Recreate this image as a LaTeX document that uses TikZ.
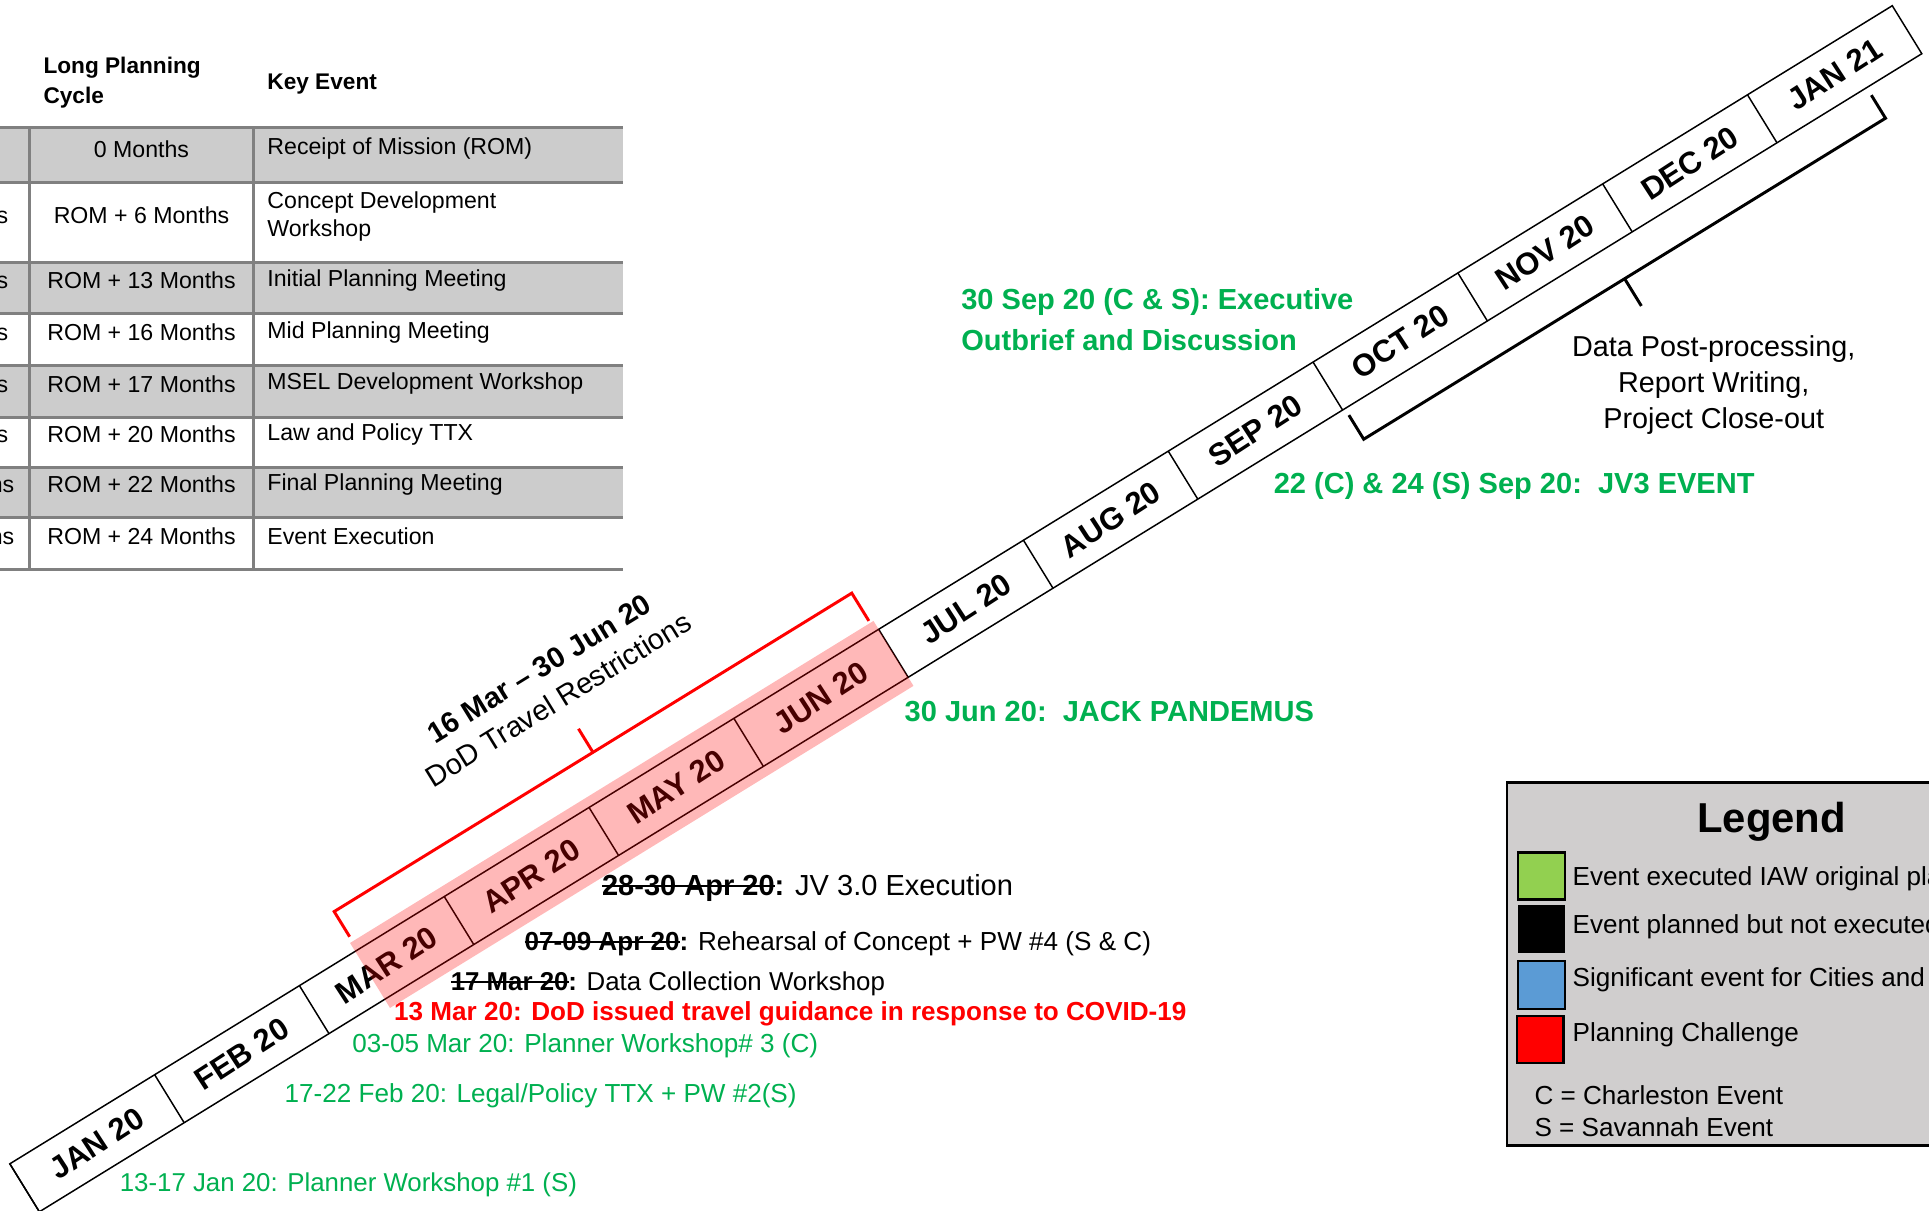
\documentclass[tikz,border=0pt]{standalone}
\usepackage{fontspec}
\setmainfont{Liberation Sans}
\newcommand{\strk}[1]{{\setbox0=\hbox{#1}\rlap{\rule[0.3em]{\wd0}{0.8pt}}\box0}}
\definecolor{evgreen}{RGB}{0,176,80}
\definecolor{lgreen}{RGB}{146,208,80}
\definecolor{lblue}{RGB}{91,155,213}
\definecolor{tabgray}{RGB}{204,204,204}
\definecolor{tabedge}{RGB}{128,128,128}
\definecolor{leggray}{RGB}{208,206,206}

\begin{document}
\begin{tikzpicture}[x=0.5pt, y=-0.5pt,
    every node/.style={inner sep=0pt},
    tabhead/.style={font=\fontsize{9.2}{12}\selectfont\bfseries, anchor=west, align=left},
    tabcell/.style={font=\fontsize{9.4}{11}\selectfont, anchor=west, align=left},
    tabmid/.style={font=\fontsize{9.4}{11}\selectfont},
    tabline/.style={draw=tabedge, line width=1.2pt},
    band/.style={line width=0.6pt},
    month/.style={font=\fontsize{12.6}{14}\selectfont\bfseries, rotate=33},
    redbrace/.style={red, line width=1.2pt},
    blackbrace/.style={line width=1.2pt},
    greenbold/.style={text=evgreen, font=\fontsize{11.8}{16.5}\selectfont\bfseries, anchor=west, align=left},
    greentxt/.style={text=evgreen, font=\fontsize{10.6}{13}\selectfont, anchor=west},
    legtxt/.style={font=\fontsize{10.6}{13}\selectfont, anchor=west},
    legbox/.style={draw=black, line width=1pt}]
  \useasboundingbox (0,0) rectangle (1568,984);
  \clip (0,0) rectangle (1568,984);

  % planning cycle table
  \foreach \top/\bot in {104/148,213/255,297/339,380/421}
    \fill[tabgray] (0,\top) rectangle (506,\bot);
  \foreach \y in {104,148,213,255,297,339,380,421,463}
    \draw[tabline] (0,\y) -- (506,\y);
  \draw[tabline] (24,104) -- (24,463) (206,104) -- (206,463);
  \node[tabhead] (hcyc) at (35,67) {Long Planning\\Cycle};
  \node[tabhead] (hkey) at (217,68) {Key Event};
  \foreach \y in {175,228,270,312,353}
    \node[tabcell, anchor=east] (cut\y) at (7,\y) {Months};
  \foreach \y in {394,436}
    \node[tabcell, anchor=east] (cut\y) at (12,\y) {Months};
  \node[tabmid] (c1) at (115,121) {0 Months};
  \node[tabmid] (c2) at (115,175) {ROM + 6 Months};
  \node[tabmid] (c3) at (115,228) {ROM + 13 Months};
  \node[tabmid] (c4) at (115,270) {ROM + 16 Months};
  \node[tabmid] (c5) at (115,312) {ROM + 17 Months};
  \node[tabmid] (c6) at (115,353) {ROM + 20 Months};
  \node[tabmid] (c7) at (115,394) {ROM + 22 Months};
  \node[tabmid] (c8) at (115,436) {ROM + 24 Months};
  \node[tabcell] (k1) at (217,121) {Receipt of Mission (ROM)};
  \node[tabcell] (k2) at (217,176) {Concept Development\\Workshop};
  \node[tabcell] (k3) at (217,228) {Initial Planning Meeting};
  \node[tabcell] (k4) at (217,270) {Mid Planning Meeting};
  \node[tabcell] (k5) at (217,312) {MSEL Development Workshop};
  \node[tabcell] (k6) at (217,353) {Law and Policy TTX};
  \node[tabcell] (k7) at (217,394) {Final Planning Meeting};
  \node[tabcell] (k8) at (217,436) {Event Execution};

  % timeline band
  \begin{scope}[shift={(8,946)}, rotate=31.6]
    \draw[band] (0,0) rectangle (1796.6,45.8);
    \foreach \m [count=\i from 0] in {JAN 20,FEB 20,MAR 20,APR 20,MAY 20,JUN 20,JUL 20,AUG 20,SEP 20,OCT 20,NOV 20,DEC 20,JAN 21} {
      \draw[band] (\i*138.2,0) -- (\i*138.2,45.8);
      \node[month] (m\i) at ({(\i+0.5)*138.2},22.9) {\m};
    }
    \fill[red, opacity=0.28] (329.6,-8) rectangle (829.2,54);
    \draw[redbrace] (332,-12.5) -- (332,-36.5) -- (826,-36.5) -- (826,-10);
    \draw[redbrace] (579,-36.5) -- (579,-59);
    \draw[blackbrace] (1246,52) -- (1246,75) -- (1744,75) -- (1744,53);
    \draw[blackbrace] (1495,75) -- (1495,101);
  \end{scope}
  \node[rotate=31.6, align=center, font=\fontsize{11.8}{14.8}\selectfont] (travel) at (446,556)
    {\textbf{16 Mar – 30 Jun 20}\\DoD Travel Restrictions};
  \node[align=center, font=\fontsize{11.7}{14.5}\selectfont] (post) at (1393,313)
    {Data Post-processing,\\Report Writing,\\Project Close-out};

  % events
  \node[greenbold] (outbrief) at (781,260) {30 Sep 20 (C \& S): Executive\\Outbrief and Discussion};
  \node[greenbold] (jv3) at (1035,395) {22 (C) \& 24 (S) Sep 20:\ \ JV3 EVENT};
  \node[greenbold] (jack) at (735,578) {30 Jun 20:\ \ JACK PANDEMUS};
  \node[anchor=west, font=\fontsize{11.8}{14}\selectfont] (jvexec) at (489,722)
    {\textbf{\strk{28-30 Apr 20}:} JV 3.0 Execution};
  \node[anchor=west, font=\fontsize{10.6}{13}\selectfont] (rehearsal) at (426,767)
    {\textbf{\strk{07-09 Apr 20}:} Rehearsal of Concept + PW \#4 (S \& C)};
  \node[anchor=west, font=\fontsize{10.5}{13}\selectfont] (datacoll) at (366,800)
    {\textbf{\strk{17 Mar 20}:} Data Collection Workshop};
  \node[anchor=west, text=red, font=\fontsize{10.6}{13}\selectfont\bfseries] (covid) at (320,824)
    {13 Mar 20: DoD issued travel guidance in response to COVID-19};
  \node[greentxt] (pw3) at (286,850) {03-05 Mar 20: Planner Workshop\# 3 (C)};
  \node[greentxt] (pw2) at (231,891) {17-22 Feb 20: Legal/Policy TTX + PW \#2(S)};
  \node[greentxt, font=\fontsize{10.5}{13}\selectfont] (pw1) at (97,963) {13-17 Jan 20: Planner Workshop \#1 (S)};

  % legend
  \filldraw[fill=leggray, draw=black, line width=1pt] (1225,636) rectangle (1600,931);
  \node[font=\fontsize{17}{20}\selectfont\bfseries] (legtitle) at (1440,668) {Legend};
  \filldraw[fill=lgreen, legbox] (1234,693) rectangle (1272,731);
  \fill[black] (1234,736) rectangle (1272,775);
  \filldraw[fill=lblue, legbox] (1234,781) rectangle (1272,820);
  \filldraw[fill=red, legbox] (1233,826) rectangle (1271,864);
  \node[legtxt] (lg1) at (1278,714) {Event executed IAW original plan};
  \node[legtxt] (lg2) at (1278,753) {Event planned but not executed};
  \node[legtxt] (lg3) at (1278,796) {Significant event for Cities and};
  \node[legtxt] (lg4) at (1278,841) {Planning Challenge};
  \node[legtxt] (lgc) at (1247,890) {C = Charleston Event};
  \node[legtxt] (lgs) at (1247,916) {S = Savannah Event};
\end{tikzpicture}
\end{document}
